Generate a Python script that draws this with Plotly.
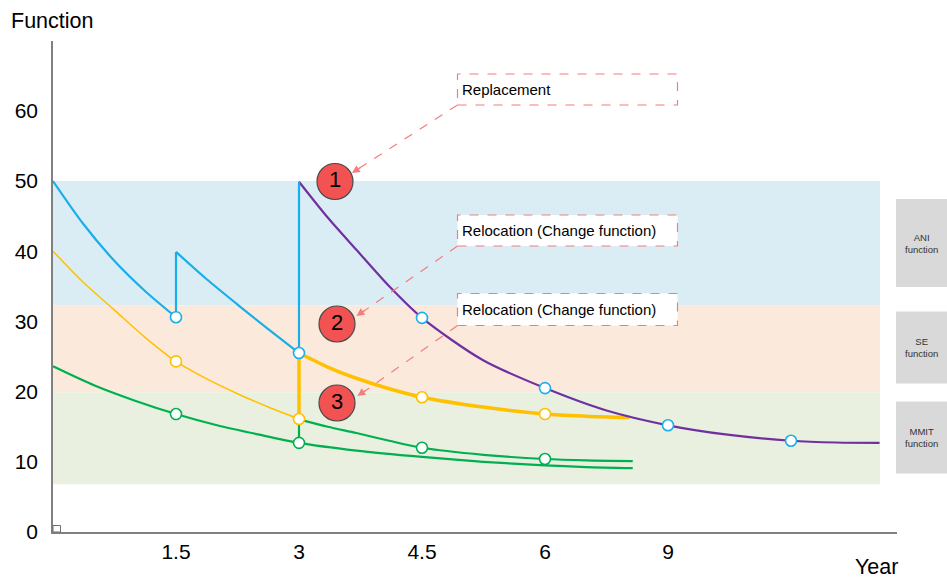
import plotly.graph_objects as go

# ---------------- data ----------------
blue_seg1_x = [0, 0.375, 0.75, 1.125, 1.5]
blue_seg1_y = [50, 43.8, 38.6, 34.3, 30.6]
blue_seg2_x = [1.5, 1.875, 2.25, 2.625, 3]
blue_seg2_y = [39.9, 36.0, 32.4, 28.9, 25.5]
blue_jump_x = [1.5, 1.5, None, 3, 3]
blue_jump_y = [30.6, 39.9, None, 25.5, 49.9]

purple_x = [3, 3.35, 3.7, 4.1, 4.5, 5.24, 6, 6.75, 7.5, 8.2, 9, 9.55, 10.08]
purple_y = [49.9, 44.8, 40.2, 35.0, 30.5, 24.5, 20.5, 17.3, 15.2, 13.9, 13.0, 12.75, 12.7]

yellow_thin_x = [0, 0.375, 0.75, 1.125, 1.5, 1.875, 2.25, 2.625, 3]
yellow_thin_y = [40, 35.5, 31.6, 27.7, 24.3, 21.8, 19.7, 17.8, 16.1]
yellow_thick_x = [3, 3.35, 3.7, 4.1, 4.5, 5.24, 6, 6.5, 7.03]
yellow_thick_y = [25.5, 23.5, 21.9, 20.4, 19.2, 17.8, 16.8, 16.5, 16.3]
yellow_jump_x = [3, 3]
yellow_jump_y = [16.1, 25.5]

green_low_x = [0, 0.5, 1.0, 1.5, 2.0, 2.5, 3, 3.7, 4.5, 5.25, 6, 6.5, 7.07]
green_low_y = [23.6, 20.9, 18.7, 16.8, 15.2, 13.9, 12.7, 11.6, 10.7, 10.0, 9.5, 9.25, 9.1]
green_up_x = [3, 3.35, 3.7, 4.1, 4.5, 5.25, 6, 6.5, 7.07]
green_up_y = [16.05, 15.0, 14.1, 13.0, 12.0, 11.0, 10.4, 10.2, 10.1]
green_jump_x = [3, 3]
green_jump_y = [12.7, 16.05]

blue_mark_x = [1.5, 3, 4.5, 6, 7.5, 9]
blue_mark_y = [30.6, 25.5, 30.5, 20.5, 15.2, 13.0]
yellow_mark_x = [1.5, 3, 4.5, 6]
yellow_mark_y = [24.3, 16.1, 19.2, 16.8]
green_mark_x = [1.5, 3, 4.5, 6]
green_mark_y = [16.8, 12.7, 12.0, 10.4]

band_names = ["ANI\nfunction", "SE\nfunction", "MMIT\nfunction"]
band_low = [32.3, 19.9, 6.8]
band_high = [50, 32.3, 19.9]

x_tickvals = [1.5, 3, 4.5, 6, 7.5]
x_ticktext = ["1.5", "3", "4.5", "6", "9"]
y_tickvals = [0, 10, 20, 30, 40, 50, 60]

callout_labels = ["1", "2", "3"]
callout_texts = ["Replacement", "Relocation (Change function)", "Relocation (Change function)"]

# ---------------- layout geometry ----------------
W, H = 947, 578
L, R, T, B = 53, 897, 41, 532
XPU = 82.0          # pixels per x unit
YPU = 7.02          # pixels per y unit
XMAX = (R - L) / XPU
YMAX = (B - T) / YPU

def dx(xp):  # pixel -> data x
    return (xp - L) / XPU

def dy(yp):  # pixel -> data y
    return (B - yp) / YPU

def px(xp):  # pixel -> paper x
    return (xp - L) / (R - L)

def py(yp):  # pixel -> paper y
    return (B - yp) / (B - T)

BLUE = "#19AFE8"
PURPLE = "#7030A0"
YELLOW = "#FFC000"
GREEN = "#00B050"
BAND_COLORS = ["#DBEDF4", "#FBE9DC", "#E9F0DF"]
ARROW = "#F47C7C"
FONT = "Liberation Sans, Arial, sans-serif"

fig = go.Figure()

def line(x, y, color, width, shape="spline"):
    fig.add_trace(go.Scatter(x=x, y=y, mode="lines",
                             line=dict(color=color, width=width, shape=shape, smoothing=0.8),
                             hoverinfo="skip", showlegend=False))

line(yellow_thin_x, yellow_thin_y, YELLOW, 1.5)
line(green_low_x, green_low_y, GREEN, 2.2)
line(green_up_x, green_up_y, GREEN, 2.2)
line(green_jump_x, green_jump_y, GREEN, 2.2, "linear")
line(yellow_thick_x, yellow_thick_y, YELLOW, 3.5)
line(yellow_jump_x, yellow_jump_y, YELLOW, 3.5, "linear")
line(purple_x, purple_y, PURPLE, 2.2)
line(blue_seg1_x, blue_seg1_y, BLUE, 2.2)
line(blue_seg2_x, blue_seg2_y, BLUE, 2.2)
line(blue_jump_x, blue_jump_y, BLUE, 2.2, "linear")

def marks(x, y, color):
    fig.add_trace(go.Scatter(x=x, y=y, mode="markers",
                             marker=dict(symbol="circle", size=11, color="white",
                                         line=dict(color=color, width=1.6)),
                             hoverinfo="skip", showlegend=False))

marks(yellow_mark_x, yellow_mark_y, YELLOW)
marks(green_mark_x, green_mark_y, GREEN)
marks(blue_mark_x, blue_mark_y, BLUE)

# red numbered callouts
callout_px = [(335, 181.5), (337, 324), (337, 403)]
fig.add_trace(go.Scatter(
    x=[dx(p[0]) for p in callout_px], y=[dy(p[1]) for p in callout_px],
    mode="markers+text", text=callout_labels, textposition="middle center",
    textfont=dict(family=FONT, size=22, color="black"),
    marker=dict(size=36, color="#F25252", line=dict(color="#4a4a4a", width=1.2)),
    hoverinfo="skip", showlegend=False, cliponaxis=False))

shapes = []
# function bands
for lo, hi, c in zip(band_low, band_high, BAND_COLORS):
    shapes.append(dict(type="rect", xref="paper", yref="y", x0=0, x1=px(880),
                       y0=lo, y1=hi, fillcolor=c, line=dict(width=0), layer="below"))

# gray labels on the right
gray_boxes = [(199, 287), (311.5, 383.5), (401.5, 473.5)]
annotations = []
for (t, b), name in zip(gray_boxes, band_names):
    shapes.append(dict(type="rect", xref="paper", yref="paper", x0=px(896), x1=px(947),
                       y0=py(b), y1=py(t), fillcolor="#D9D9D9", line=dict(width=0)))
    annotations.append(dict(xref="paper", yref="paper", x=px(921.5), y=py((t + b) / 2),
                            text=name.replace("\n", "<br>"), showarrow=False,
                            font=dict(family=FONT, size=9.5, color="#333333"),
                            xanchor="center", yanchor="middle"))

# dashed text boxes and arrows
text_boxes = [(74, 105), (215, 246), (293.5, 325.5)]
heads = [(352, 173), (356.5, 316), (357.5, 396)]
for (t, b), txt, (hx, hy) in zip(text_boxes, callout_texts, heads):
    shapes.append(dict(type="rect", xref="paper", yref="paper", x0=px(457.5), x1=px(677.5),
                       y0=py(b), y1=py(t), fillcolor="white",
                       line=dict(color=ARROW, width=1.2, dash="dash")))
    annotations.append(dict(xref="paper", yref="paper", x=px(460), y=py((t + b) / 2),
                            text=txt, showarrow=False, xanchor="left", yanchor="middle",
                            font=dict(family=FONT, size=15, color="black")))
    shapes.append(dict(type="line", xref="paper", yref="paper", x0=px(457.5), y0=py(b),
                       x1=px(hx + 6), y1=py(hy - 4),
                       line=dict(color=ARROW, width=1.2, dash="dash")))
    vx, vy = 457.5 - hx, b - hy
    n = (vx ** 2 + vy ** 2) ** 0.5
    annotations.append(dict(xref="paper", yref="paper", x=px(hx), y=py(hy),
                            ax=vx / n * 12, ay=vy / n * 12, showarrow=True,
                            arrowhead=2, arrowsize=1.3, arrowwidth=1.2,
                            arrowcolor=ARROW, text=""))

# small right-angle mark at origin
shapes.append(dict(type="rect", xref="paper", yref="paper", x0=px(53), x1=px(60.5),
                   y0=py(532), y1=py(525.5), line=dict(color="#6f6f6f", width=1)))

# axis titles
annotations.append(dict(xref="paper", yref="paper", x=px(9), y=py(21), text="Function",
                        showarrow=False, xanchor="left", yanchor="middle",
                        font=dict(family=FONT, size=21.5, color="black")))
annotations.append(dict(xref="paper", yref="paper", x=px(876), y=py(567), text="Year",
                        showarrow=False, xanchor="center", yanchor="middle",
                        font=dict(family=FONT, size=21.5, color="black")))

fig.update_layout(
    width=W, height=H, autosize=False,
    margin=dict(l=L, r=W - R, t=T, b=H - B, pad=0),
    paper_bgcolor="white", plot_bgcolor="white",
    shapes=shapes, annotations=annotations,
    font=dict(family=FONT, size=21, color="black"),
    xaxis=dict(range=[0, XMAX], tickvals=x_tickvals, ticktext=x_ticktext,
               showgrid=False, zeroline=False, showline=True, linecolor="#808080",
               linewidth=1.5, ticks="", ticklabelstandoff=0,
               tickfont=dict(family=FONT, size=21, color="black")),
    yaxis=dict(range=[0, YMAX], tickvals=y_tickvals, showgrid=False, zeroline=False,
               showline=True, linecolor="#808080", linewidth=1.5, ticks="",
               ticklabelstandoff=9,
               tickfont=dict(family=FONT, size=21, color="black")),
)

fig.write_html("out.html", config={"displayModeBar": False},
               post_script="document.body.style.margin='0';document.body.style.overflow='hidden';")
